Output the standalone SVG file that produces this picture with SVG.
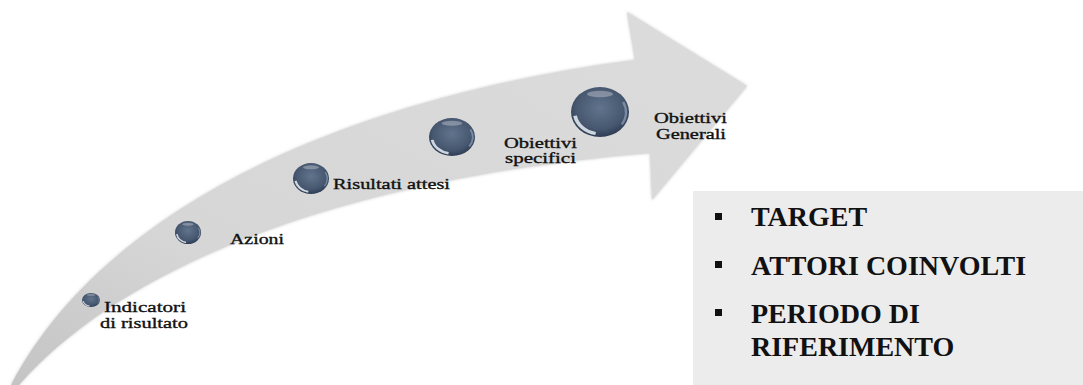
<svg xmlns="http://www.w3.org/2000/svg" xmlns:xlink="http://www.w3.org/1999/xlink" width="1083" height="385" viewBox="0 0 1083 385" font-family="Liberation Serif, Times New Roman, serif">
  <style>
    .lbl { font-size: 15px; fill: #111; stroke: #111; stroke-width: 0.35px; }
    .big { font-size: 28px; font-weight: bold; fill: #111; }
    .bul { fill: #111; }
  </style>
  <defs>
    <linearGradient id="arrowGrad" x1="0" y1="1" x2="1" y2="0">
      <stop offset="0" stop-color="#c4c4c4"/>
      <stop offset="0.3" stop-color="#d6d6d6"/>
      <stop offset="1" stop-color="#dcdcdc"/>
    </linearGradient>
    <radialGradient id="ballGrad" cx="0.5" cy="0.42" r="0.6">
      <stop offset="0" stop-color="#62748d"/>
      <stop offset="0.7" stop-color="#46576f"/>
      <stop offset="1" stop-color="#2b3950"/>
    </radialGradient>
    <filter id="shadow" x="-5%" y="-5%" width="110%" height="110%">
      <feDropShadow dx="0" dy="0" stdDeviation="1.5" flood-color="#888" flood-opacity="0.5"/>
    </filter>
    <symbol id="ball" viewBox="-1 -1 2 2" preserveAspectRatio="none" overflow="visible">
      <circle cx="0" cy="0" r="1" fill="url(#ballGrad)"/>
      <path d="M -0.86,0.15 A 0.88 0.88 0 0 0 -0.15,0.86" fill="none" stroke="#e8eef6" stroke-width="0.13" opacity="0.85"/>
      <ellipse cx="0" cy="-0.72" rx="0.45" ry="0.13" fill="#ffffff" opacity="0.3"/>
      <path d="M 0.8,-0.4 A 0.9 0.9 0 0 1 0.75,0.5" fill="none" stroke="#9fb3cc" stroke-width="0.08" opacity="0.6"/>
    </symbol>
  </defs>

  <g id="arrow">
    <path d="M11,385 C100,215 330,100 635,60 L627,12 L747,86 L652,200 L650,153 C330,180 120,270 19,385 Z" fill="url(#arrowGrad)" filter="url(#shadow)"/>
  </g>

  <g id="connectors"></g>

  <g id="node-indicatori">
    <use href="#ball" x="82" y="293" width="18" height="14"/>
    <text class="lbl" font-family="Liberation Serif, serif" x="104" y="312" textLength="82" lengthAdjust="spacingAndGlyphs">Indicatori</text>
    <text class="lbl" font-family="Liberation Serif, serif" x="100" y="328" textLength="88" lengthAdjust="spacingAndGlyphs">di risultato</text>
  </g>

  <g id="node-azioni">
    <use href="#ball" x="175" y="221" width="26" height="23"/>
    <text class="lbl" font-family="Liberation Serif, serif" x="230" y="244" textLength="54" lengthAdjust="spacingAndGlyphs">Azioni</text>
  </g>

  <g id="node-risultati">
    <use href="#ball" x="293" y="163" width="36" height="31"/>
    <text class="lbl" font-family="Liberation Serif, serif" x="333" y="189" textLength="117" lengthAdjust="spacingAndGlyphs">Risultati attesi</text>
  </g>

  <g id="node-obiettivi-specifici">
    <use href="#ball" x="429" y="118" width="46" height="38"/>
    <text class="lbl" font-family="Liberation Serif, serif" x="504" y="148" textLength="73" lengthAdjust="spacingAndGlyphs">Obiettivi</text>
    <text class="lbl" font-family="Liberation Serif, serif" x="505" y="163" textLength="71" lengthAdjust="spacingAndGlyphs">specifici</text>
  </g>

  <g id="node-obiettivi-generali">
    <use href="#ball" x="571" y="87" width="58" height="50"/>
    <text class="lbl" font-family="Liberation Serif, serif" x="654" y="123" textLength="73" lengthAdjust="spacingAndGlyphs">Obiettivi</text>
    <text class="lbl" font-family="Liberation Serif, serif" x="656" y="139" textLength="70" lengthAdjust="spacingAndGlyphs">Generali</text>
  </g>

  <g id="node-box">
    <rect x="693" y="191" width="390" height="194" fill="#ececec"/>
    <rect class="bul" x="715" y="213" width="7" height="7"/>
    <text class="big" font-family="Liberation Serif, serif" x="751" y="226">TARGET</text>
    <rect class="bul" x="715" y="261" width="7" height="7"/>
    <text class="big" font-family="Liberation Serif, serif" x="751" y="275">ATTORI COINVOLTI</text>
    <rect class="bul" x="715" y="309" width="7" height="7"/>
    <text class="big" font-family="Liberation Serif, serif" x="751" y="323">PERIODO DI</text>
    <text class="big" font-family="Liberation Serif, serif" x="751" y="356">RIFERIMENTO</text>
  </g>
</svg>
